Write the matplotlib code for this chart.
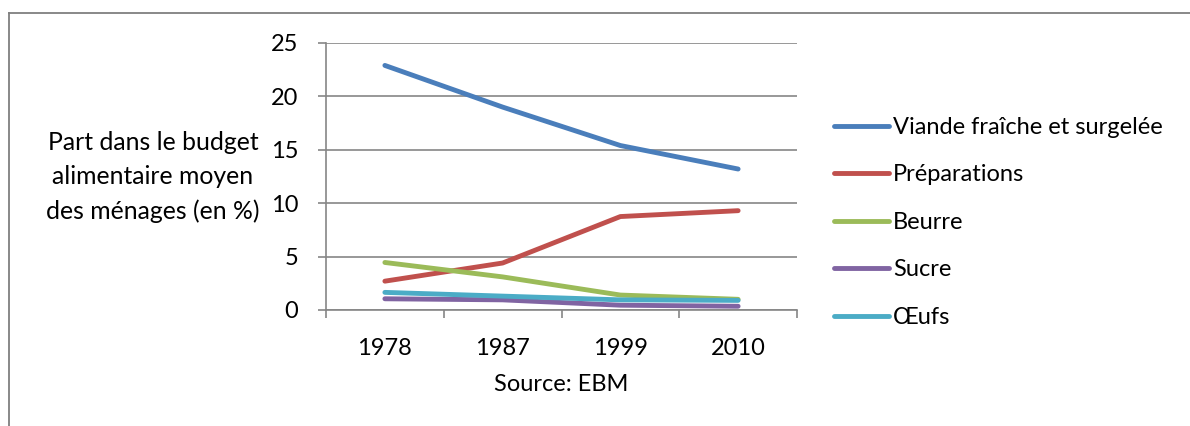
import matplotlib
matplotlib.use("Agg")
import matplotlib.pyplot as plt
from matplotlib.lines import Line2D
import numpy as np

# Data
years = ["1978", "1987", "1999", "2010"]
viande = [22.9, 19.0, 15.4, 13.2]
preparations = [2.7, 4.4, 8.75, 9.3]
beurre = [4.45, 3.1, 1.4, 1.0]
sucre = [1.05, 0.95, 0.45, 0.35]
oeufs = [1.65, 1.3, 0.95, 0.9]

series_names = ["Viande fraîche et surgelée", "Préparations", "Beurre", "Sucre", "Œufs"]
series_values = [viande, preparations, beurre, sucre, oeufs]
colors = ["#4A7EBB", "#C0504D", "#9BBB59", "#8064A2", "#4BACC6"]

plt.rcParams["font.family"] = ["Lato", "DejaVu Sans"]
FS = 17
GRID = "#868686"

W, H = 1190, 426
fig = plt.figure(figsize=(W / 100, H / 100), dpi=100)

# Outer frame (top and left edges visible)
fig.add_artist(Line2D([9 / W, 1.0], [1 - 13 / H, 1 - 13 / H], transform=fig.transFigure,
                      color="#7f7f7f", lw=1.3))
fig.add_artist(Line2D([9 / W, 9 / W], [1 - 13 / H, 0.0], transform=fig.transFigure,
                      color="#7f7f7f", lw=1.3))

ax = fig.add_axes([326 / W, 1 - 310 / H, (797 - 326) / W, (310 - 43) / H])

x = np.arange(len(years))
for name, vals, c in zip(series_names, series_values, colors):
    ax.plot(x, vals, color=c, lw=3.5, solid_capstyle="round", solid_joinstyle="round",
            label=name, zorder=3)

ax.set_xlim(-0.5, len(years) - 0.5)
ax.set_ylim(0, 25)
ax.set_yticks(np.arange(0, 26, 5))
ax.yaxis.grid(True, color=GRID, lw=1.2)
ax.set_axisbelow(True)

ax.set_xticks(x)
ax.set_xticklabels(years)
ax.set_xticks(np.arange(-0.5, len(years), 1.0), minor=True)
ax.tick_params(axis="x", which="major", length=0, pad=20, labelsize=FS)
ax.tick_params(axis="x", which="minor", length=6, width=1.2, color=GRID, direction="out")
ax.tick_params(axis="y", length=6, width=1.2, color=GRID, direction="out", pad=14, labelsize=FS)

for s in ["top", "right"]:
    ax.spines[s].set_visible(False)
for s in ["left", "bottom"]:
    ax.spines[s].set_color(GRID)
    ax.spines[s].set_linewidth(1.2)

fig.text(153 / W, 1 - 177 / H, "Part dans le budget\nalimentaire moyen\ndes ménages (en %)",
         ha="center", va="center", fontsize=17.8, linespacing=1.6)

ax.set_xlabel("Source: EBM", fontsize=FS, labelpad=11)

fig.legend(loc="upper left", bbox_to_anchor=(834 / W, 1 - 117 / H), frameon=False,
           fontsize=FS, handlelength=2.35, handletextpad=0.15, labelspacing=1.12,
           borderpad=0, borderaxespad=0)

fig.savefig("out.png", dpi=100)
